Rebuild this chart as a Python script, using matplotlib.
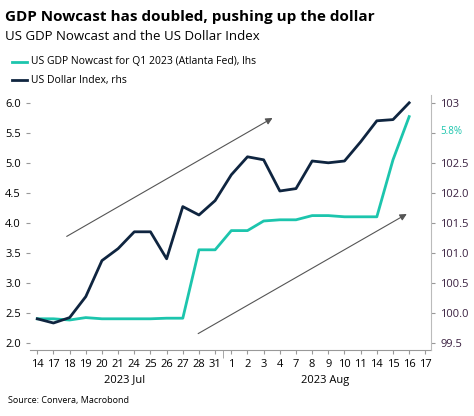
import matplotlib
matplotlib.use("Agg")
import matplotlib.pyplot as plt

plt.rcParams['font.family'] = ['Open Sans', 'DejaVu Sans']

days = ["14","17","18","19","20","21","24","25","26","27","28","31","1","2","3","4","7","8","9","10","11","14","15","16","17"]
gdp = [2.4,2.4,2.38,2.42,2.4,2.4,2.4,2.4,2.41,2.41,3.55,3.55,3.87,3.87,4.03,4.05,4.05,4.12,4.12,4.1,4.1,4.1,5.05,5.77]
dxy = [99.9,99.83,99.92,100.27,100.87,101.07,101.35,101.35,100.9,101.77,101.63,101.87,102.3,102.6,102.55,102.03,102.07,102.53,102.5,102.53,102.85,103.2,103.22,103.5]

teal = "#1cc5ad"
navy = "#0f2540"

fig = plt.figure(figsize=(4.74, 4.16), dpi=100)
ax = fig.add_axes([30/474, 1-350/416, 401/474, 255/416])
ax2 = ax.twinx()
x = list(range(len(gdp)))
ax.plot(x, gdp, color=teal, lw=2)
ax2.plot(x, dxy, color=navy, lw=2)
ax.set_xlim(-0.45, 24.35)
ax.set_ylim(1.88, 6.13)
ax2.set_ylim(99.5 - 0.12/1, 103.5 + 0.13)
ax.set_yticks([2.0,2.5,3.0,3.5,4.0,4.5,5.0,5.5,6.0])
ax.set_yticklabels([f"{v:.1f}" for v in [2.0,2.5,3.0,3.5,4.0,4.5,5.0,5.5,6.0]], fontsize=8)
rt = [99.5,100.0,100.5,101.0,101.5,102.0,102.5,103.0,103.5]
ax2.set_yticks(rt)
ax2.set_yticklabels([f"{v:.1f}" for v in rt[:-2]] + ["", "103"], fontsize=8, color="#3a2040")
ax.set_xticks(range(len(days)))
ax.set_xticklabels(days, fontsize=8)
ax.tick_params(axis='x', length=3, color="#999")
ax.set_xticks([11.5], minor=True)
ax.tick_params(axis='x', which='minor', length=6, color="#999")
for a in (ax, ax2):
    for s in ("top", "left"):
        a.spines[s].set_visible(False)
    a.spines["right"].set_visible(a is ax2)
    a.spines["bottom"].set_visible(a is ax)
    a.spines["right"].set_color("#bbb")
    a.spines["bottom"].set_color("#999")
ax.tick_params(axis='y', length=3, color="#999")
ax2.tick_params(axis='y', length=3, color="#999")
ax2.text(24.9, 103.0 + 0.02, "5.8%", color=teal, fontsize=7, va="center", clip_on=False)

ax.annotate("", xy=(14.7, 5.77), xytext=(1.67, 3.75),
            arrowprops=dict(arrowstyle="-|>", color="#555", lw=0.8, mutation_scale=10))
ax.annotate("", xy=(23.0, 4.17), xytext=(9.8, 2.13),
            arrowprops=dict(arrowstyle="-|>", color="#555", lw=0.8, mutation_scale=10))

fig.text(5/474, 1-17/416, "GDP Nowcast has doubled, pushing up the dollar", fontsize=11, fontweight="bold", va="center")
fig.text(5/474, 1-37/416, "US GDP Nowcast and the US Dollar Index", fontsize=9.5, va="center")
fig.lines.append(plt.Line2D([12/474, 27/474], [1-62/416]*2, color=teal, lw=2, transform=fig.transFigure))
fig.text(31/474, 1-62/416, "US GDP Nowcast for Q1 2023 (Atlanta Fed), lhs", fontsize=7.5, va="center")
fig.lines.append(plt.Line2D([12/474, 27/474], [1-80/416]*2, color=navy, lw=2, transform=fig.transFigure))
fig.text(31/474, 1-80/416, "US Dollar Index, rhs", fontsize=7.5, va="center")
fig.text(125/474, 1-380/416, "2023 Jul", fontsize=8, ha="center", va="center")
fig.text(325/474, 1-380/416, "2023 Aug", fontsize=8, ha="center", va="center")
fig.text(8/474, 1-400/416, "Source: Convera, Macrobond", fontsize=6.5, va="center")
fig.savefig("out.png", dpi=100)
